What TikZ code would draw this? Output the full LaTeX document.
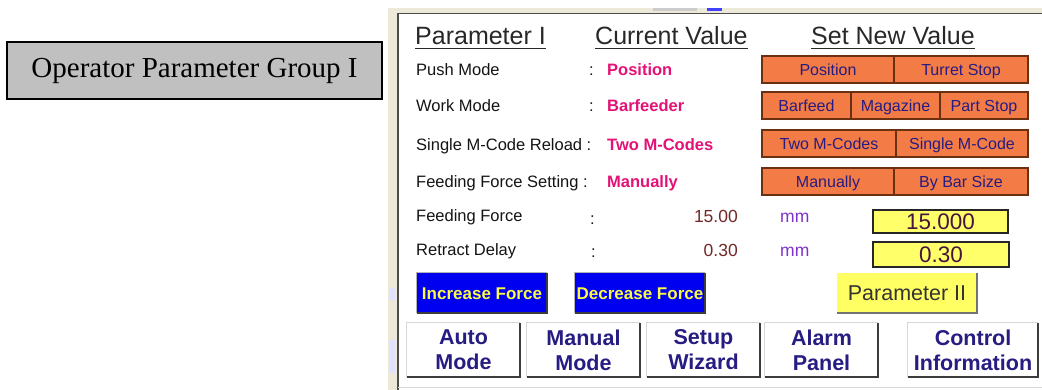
\documentclass[tikz,border=0pt]{standalone}
\usepackage{fontspec}
\setmainfont{Liberation Serif}
\newfontfamily\arial{Liberation Sans}
\definecolor{magv}{RGB}{228,18,118}
\definecolor{btnor}{RGB}{243,124,70}
\definecolor{btnbr}{RGB}{105,48,18}
\definecolor{navy}{RGB}{38,28,130}
\definecolor{darkred}{RGB}{115,40,40}
\definecolor{mmpurp}{RGB}{128,50,200}
\definecolor{ylw}{RGB}{255,255,105}
\definecolor{beige}{RGB}{236,233,216}
\definecolor{bblue}{RGB}{0,0,240}
\definecolor{byel}{RGB}{250,250,70}
\definecolor{hdr}{RGB}{40,40,40}
\definecolor{lbltxt}{RGB}{20,20,20}
\definecolor{valtxt}{RGB}{70,20,60}
\definecolor{dkedge}{RGB}{60,60,60}
\definecolor{ltedge}{RGB}{215,215,215}
\tikzset{
  hdrtxt/.style={anchor=base west, inner sep=0pt, text=hdr, font=\arial\fontsize{25}{28}\selectfont},
  lbl/.style={anchor=base west, inner sep=0pt, text=lbltxt, font=\arial\fontsize{16.5}{18}\selectfont},
  curval/.style={anchor=base west, inner sep=0pt, text=magv, font=\arial\bfseries\fontsize{16.5}{18}\selectfont},
  obtn/.style={draw=btnbr, fill=btnor, line width=1.2pt, text=navy, inner sep=0pt,
    minimum height=27pt, text height=11.5pt, text depth=0pt,
    font=\arial\fontsize{16}{18}\selectfont},
  ybox/.style={draw=black!85, fill=ylw, line width=1.2pt, inner sep=0pt, text=valtxt,
    text height=16pt, text depth=0pt, font=\arial\fontsize{22.5}{24}\selectfont},
  bluebtn/.style={fill=bblue, inner sep=0pt, minimum width=130pt, minimum height=40pt,
    text=byel, text height=12.2pt, text depth=0pt, font=\arial\bfseries\fontsize{17}{19}\selectfont},
  navbtn/.style={fill=white, inner sep=0pt, minimum height=54pt, text=navy, align=center,
    font=\arial\bfseries\fontsize{21.5}{25}\selectfont},
  ltline/.style={draw=ltedge, line width=1.2pt},
  dkline/.style={draw=dkedge, line width=1.8pt},
}
\begin{document}
\begin{tikzpicture}[x=1pt,y=-1pt]
\useasboundingbox (0,0) rectangle (1042,390);
\fill[white] (0,0) rectangle (1042,390);

% caption box
\node[draw=black, line width=1.5pt, fill={rgb,255:red,192;green,192;blue,192},
  minimum width=375pt, minimum height=57pt, inner sep=0pt,
  font=\fontsize{29}{32}\selectfont] (cap) at (194.5,70.5) {Operator Parameter Group I};

% screenshot frame
\fill[beige] (388,8) rectangle (1042,13);
\fill[beige] (388,8) rectangle (398,390);
\fill[black!20] (653,8) rectangle (697,11);
\fill[blue!75] (707,8) rectangle (722,11);
\fill[blue!12] (389,288) rectangle (395,300);
\fill[blue!12] (389,340) rectangle (395,373);
\draw[black!70, line width=1.5pt] (398,390) -- (398,13.5) -- (1042,13.5);
\draw[black!15, line width=1pt] (398,387) -- (1042,387);

% headers
\node[hdrtxt] (h1) at (415,45) {Parameter I};
\node[hdrtxt] (h2) at (595,45) {Current Value};
\node[hdrtxt] (h3) at (811,45) {Set New Value};
\foreach \h in {h1,h2,h3}
  \draw[hdr, line width=1.4pt] ([yshift=-3.6pt]\h.base west) -- ([yshift=-3.6pt]\h.base east);

% labels
\node[lbl] (l1) at (416,76) {Push Mode};
\node[lbl] (c1) at (589,76) {:};
\node[lbl] (l2) at (416,112) {Work Mode};
\node[lbl] (c2) at (589,112) {:};
\node[lbl] (l3) at (416,151) {Single M-Code Reload :};
\node[lbl] (l4) at (416,188) {Feeding Force Setting :};
\node[lbl] (l5) at (416,222) {Feeding Force};
\node[lbl] (c5) at (590,225) {:};
\node[lbl] (l6) at (416,256) {Retract Delay};
\node[lbl] (c6) at (591,258) {:};

% current values
\node[curval] (v1) at (607,76) {Position};
\node[curval] (v2) at (607,112) {Barfeeder};
\node[curval] (v3) at (607,151) {Two M-Codes};
\node[curval] (v4) at (607,188) {Manually};
\node[anchor=base east, inner sep=0pt, text=darkred, font=\arial\fontsize{17.5}{19}\selectfont] (v5) at (738,223) {15.00};
\node[anchor=base east, inner sep=0pt, text=darkred, font=\arial\fontsize{17.5}{19}\selectfont] (v6) at (738,257) {0.30};
\node[anchor=base west, inner sep=0pt, text=mmpurp, font=\arial\fontsize{17.5}{19}\selectfont] (u5) at (780,223) {mm};
\node[anchor=base west, inner sep=0pt, text=mmpurp, font=\arial\fontsize{17.5}{19}\selectfont] (u6) at (780,257) {mm};

% orange option buttons
\node[obtn, minimum width=132pt] (b11) at (828,69.5) {Position};
\node[obtn, minimum width=134pt] (b12) at (961,69.5) {Turret Stop};
\node[obtn, minimum width=89pt] (b21) at (806.5,105.5) {Barfeed};
\node[obtn, minimum width=89pt] (b22) at (895.5,105.5) {Magazine};
\node[obtn, minimum width=88pt] (b23) at (984,105.5) {Part Stop};
\node[obtn, minimum width=134pt] (b31) at (829,143.5) {Two M-Codes};
\node[obtn, minimum width=132pt] (b32) at (962,143.5) {Single M-Code};
\node[obtn, minimum width=132pt] (b41) at (828,181.5) {Manually};
\node[obtn, minimum width=134pt] (b42) at (961,181.5) {By Bar Size};

% yellow entry boxes
\node[ybox, minimum width=135pt, minimum height=23pt] (e5) at (940.5,221.5) {15.000};
\node[ybox, minimum width=136pt, minimum height=25pt] (e6) at (941,254.5) {0.30};

% force buttons
\node[bluebtn] (inc) at (482,293) {Increase Force};
\node[bluebtn] (dec) at (640,293) {Decrease Force};
\foreach \n in {inc,dec}{
  \draw[draw=black!30, line width=1pt] (\n.south west) -- (\n.north west) -- (\n.north east);
  \draw[dkline] (\n.north east) -- (\n.south east) -- (\n.south west);
}

% Parameter II button
\node[fill={rgb,255:red,255;green,255;blue,100}, minimum width=140pt, minimum height=40pt, inner sep=0pt,
  text=black!80, text height=15.5pt, text depth=0pt, font=\arial\fontsize{21.5}{24}\selectfont] (p2) at (907,293) {Parameter II};
\draw[draw=black!55, line width=2pt] (p2.north east) -- (p2.south east) -- (p2.south west);

% navigation buttons
\node[navbtn, minimum width=113pt] (n1) at (463.5,350) {Auto\\Mode};
\node[navbtn, minimum width=113pt] (n2) at (583.5,350) {Manual\\Mode};
\node[navbtn, minimum width=113pt] (n3) at (703.5,350) {Setup\\Wizard};
\node[navbtn, minimum width=113pt] (n4) at (821.5,350) {Alarm\\Panel};
\node[navbtn, minimum width=130pt] (n5) at (973,350) {Control\\Information};
\foreach \n in {n1,n2,n3,n4,n5}{
  \draw[ltline] (\n.south west) -- (\n.north west) -- (\n.north east);
  \draw[dkline] (\n.north east) -- (\n.south east) -- (\n.south west);
}
\end{tikzpicture}
\end{document}
